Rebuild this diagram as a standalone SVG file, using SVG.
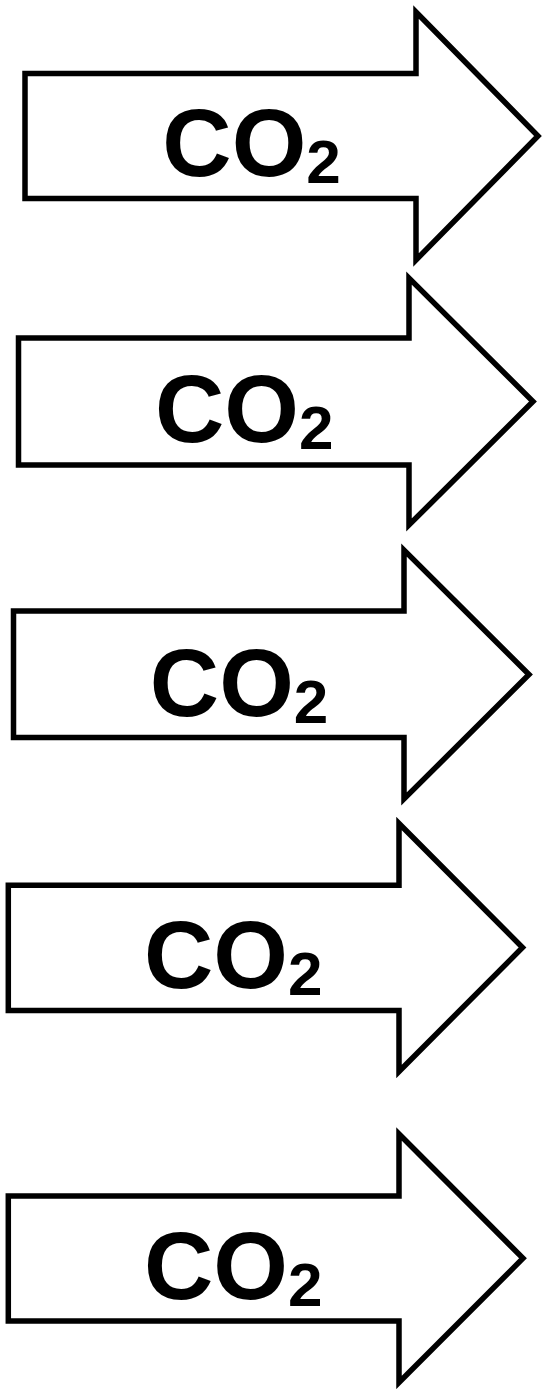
<svg xmlns="http://www.w3.org/2000/svg" width="542" height="1389" viewBox="0 0 542 1389">
<style>
.arrow{fill:#fff;stroke:#000;stroke-width:5.5;stroke-linejoin:miter;stroke-miterlimit:10}
.lbl{font-family:"Liberation Sans",Arial,sans-serif;font-weight:bold;font-size:96px;fill:#000}
.sub{font-size:62px}
</style>
<rect width="542" height="1389" fill="#fff"/>
<g id="arrow1">
<polygon class="arrow" points="25,73.5 416,73.5 416,12 538,136 416,260 416,198.5 25,198.5"/>
<text class="lbl" x="162.3" y="176">CO<tspan class="sub" dy="7">2</tspan></text>
</g>
<g id="arrow2">
<polygon class="arrow" points="18.5,338 409,338 409,278 533,401.5 409,525 409,465 18.5,465"/>
<text class="lbl" x="155" y="441.5">CO<tspan class="sub" dy="7">2</tspan></text>
</g>
<g id="arrow3">
<polygon class="arrow" points="13.5,611 404,611 404,550 529,674.5 404,799 404,737.5 13.5,737.5"/>
<text class="lbl" x="149.8" y="715.5">CO<tspan class="sub" dy="7">2</tspan></text>
</g>
<g id="arrow4">
<polygon class="arrow" points="8.3,885.3 399,885.3 399,823.5 522.5,947.5 399,1071.5 399,1010.5 8.3,1010.5"/>
<text class="lbl" x="143.9" y="988">CO<tspan class="sub" dy="7">2</tspan></text>
</g>
<g id="arrow5">
<polygon class="arrow" points="8.3,1196 399,1196 399,1134 523,1258.3 399,1382.5 399,1321 8.3,1321"/>
<text class="lbl" x="144" y="1299">CO<tspan class="sub" dy="7">2</tspan></text>
</g>
<g id="connectors"/>
</svg>
